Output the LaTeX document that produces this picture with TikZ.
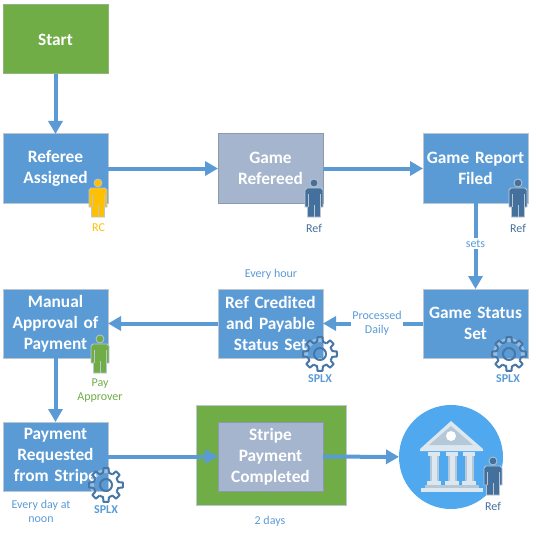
\documentclass[tikz,border=0pt]{standalone}
\usepackage{fontspec}
\setmainfont{Carlito}
\usetikzlibrary{positioning, arrows.meta}
\definecolor{boxblue}{HTML}{5B9BD5}
\definecolor{boxgrey}{HTML}{A5B5CE}
\definecolor{boxgreen}{HTML}{70AD47}
\definecolor{edgegrey}{HTML}{BCC6D0}
\definecolor{refblue}{HTML}{44709E}
\definecolor{rcyellow}{HTML}{FFC000}
\definecolor{bankblue}{HTML}{50A8EE}
\definecolor{bankpale}{HTML}{DCE7F0}
\definecolor{bankmid}{HTML}{B5C8D8}

\begin{document}
\begin{tikzpicture}[
    x=0.75pt, y=-0.75pt,
    node distance=45pt and 82.5pt,
    box/.style={draw=edgegrey, line width=0.75pt, fill=boxblue, outer sep=0pt, minimum height=51.75pt, minimum width=78.75pt, text width=77pt, inner xsep=0pt, align=center, text=white, font=\fontsize{13}{15.8}\selectfont\bfseries},
    signal/.style={-{Triangle[length=9.75pt, width=10.5pt]}, line width=3pt, boxblue},
    note/.style={text=boxblue, font=\fontsize{9}{10.5}\selectfont, align=center, inner sep=1pt},
    gearnote/.style={note, font=\fontsize{9}{10.5}\selectfont\bfseries},
    person/.pic={
        \fill[draw=edgegrey, fill=#1, line width=0.6pt] (0,-5) circle (4);
        \fill[draw=edgegrey, fill=#1, line width=0.6pt] (-9,2) -- (-7,0) -- (7,0) -- (9,2) -- (9,19) -- (6.5,19) -- (6.5,29) -- (-6.5,29) -- (-6.5,19) -- (-9,19) -- cycle;
        \draw[edgegrey, line width=0.5pt] (-6,6) -- (-6,19) (6,6) -- (6,19) (0,17) -- (0,29);
    },
    gear/.pic={
        \draw[white, opacity=0.35, line width=3pt] (0,0) circle (14);
        \foreach \ang in {0,45,...,315}
            \draw[refblue!85!boxblue, line width=1.5pt, line join=round, rotate=\ang] (-13:12.5) -- (-9:17) -- (9:17) -- (13:12.5) arc[start angle=13, end angle=32, radius=12.5];
        \draw[refblue!85!boxblue, line width=1.5pt] (0,0) circle (6);
    },
]
    \useasboundingbox (0,0) rectangle (536,535);

    % First row
    \node[box, fill=boxgreen, draw=boxgreen!60!edgegrey] (start) at (55.5,39.5) {Start};
    \node[box, below=45pt of start] (assigned) {Referee\\Assigned};
    \node[box, fill=boxgrey, draw=boxgrey!85!black, right=82.5pt of assigned] (refereed) {Game\\Refereed};
    \node[box, right=75pt of refereed] (report) {Game Report\\Filed};

    % Second row
    \node[box, below=64.5pt of report] (status) {Game Status\\Set};
    \node[box, left=75pt of status] (credited) {Ref Credited\\and Payable\\Status Set};
    \node[box, left=82.5pt of credited] (manual) {Manual\\Approval of\\Payment};

    % Third row
    \node[box, below=48pt of manual] (requested) {Payment\\Requested\\from Stripe};
    \node[box, fill=boxgreen, draw=edgegrey, minimum width=112.5pt, minimum height=75pt, text width=100pt] (holder) at (271,455) {};
    \node[box, fill=boxgrey, draw=boxgrey!85!black, right=82.5pt of requested] (completed) {Stripe\\Payment\\Completed};
    \node[circle, fill=bankblue, minimum size=78pt, inner sep=0pt, outer sep=0pt] (bank) at (451,457) {};

    % Bank building
    \fill[bankpale] (451,421) -- (483,449) -- (483,451) -- (420,451) -- (420,449) -- cycle;
    \fill[bankmid] (451,426) -- (473,445) -- (429,445) -- cycle;
    \fill[white] (451,436) circle (5);
    \foreach \colx in {434,452,469} {
        \fill[bankpale] (\colx-6,452) rectangle (\colx+6,456);
        \fill[bankmid] (\colx-4.5,456) rectangle (\colx+4.5,481);
        \fill[bankpale] (\colx-2.5,456) rectangle (\colx+2.5,481);
        \fill[bankpale] (\colx-7,481) rectangle (\colx+7,485);
    }
    \fill[bankmid] (425,485) rectangle (479,488);
    \fill[bankpale] (421,488) rectangle (483,492);

    % Arrows
    \draw[signal] (start) -- (assigned);
    \draw[signal] (assigned) -- (refereed);
    \draw[signal] (refereed) -- (report);
    \draw[signal] (report) -- node[note, fill=white, pos=0.47] (sets) {sets} (status);
    \draw[signal] (status) -- node[note, fill=white, pos=0.46] (daily) {Processed\\Daily} (credited);
    \draw[signal] (credited) -- (manual);
    \draw[signal] (manual) -- (requested);
    \draw[signal] (requested) -- (completed);
    \draw[signal] (completed) -- (bank);

    % People
    \pic (rcman) at (98,188) {person=rcyellow};
    \pic (refman) at (314,188) {person=refblue};
    \pic (reportman) at (518,188) {person=refblue};
    \pic (payman) at (100,344) {person=boxgreen};
    \pic (bankman) at (493,466) {person=refblue};

    % Gears
    \pic (creditgear) at (320,354) {gear};
    \pic (statusgear) at (509,354) {gear};
    \pic (stripegear) at (106,485) {gear};

    % Labels
    \node[note, text=rcyellow] (rclabel) at (98.5,228) {RC};
    \node[note, text=refblue] (reflabel) at (314,228) {Ref};
    \node[note, text=refblue] (reportlabel) at (518,228) {Ref};
    \node[note, text=refblue] (banklabel) at (493,506) {Ref};
    \node[note] (hourly) at (271,274) {Every hour};
    \node[note, text=boxgreen] (paylabel) at (100,391) {Pay\\Approver};
    \node[note] (noon) at (41,511) {Every day at\\noon};
    \node[note] (twodays) at (270,521) {2 days};
    \node[gearnote] (creditsplx) at (320,379) {SPLX};
    \node[gearnote] (statussplx) at (508,379) {SPLX};
    \node[gearnote] (stripesplx) at (106,510) {SPLX};
\end{tikzpicture}
\end{document}
